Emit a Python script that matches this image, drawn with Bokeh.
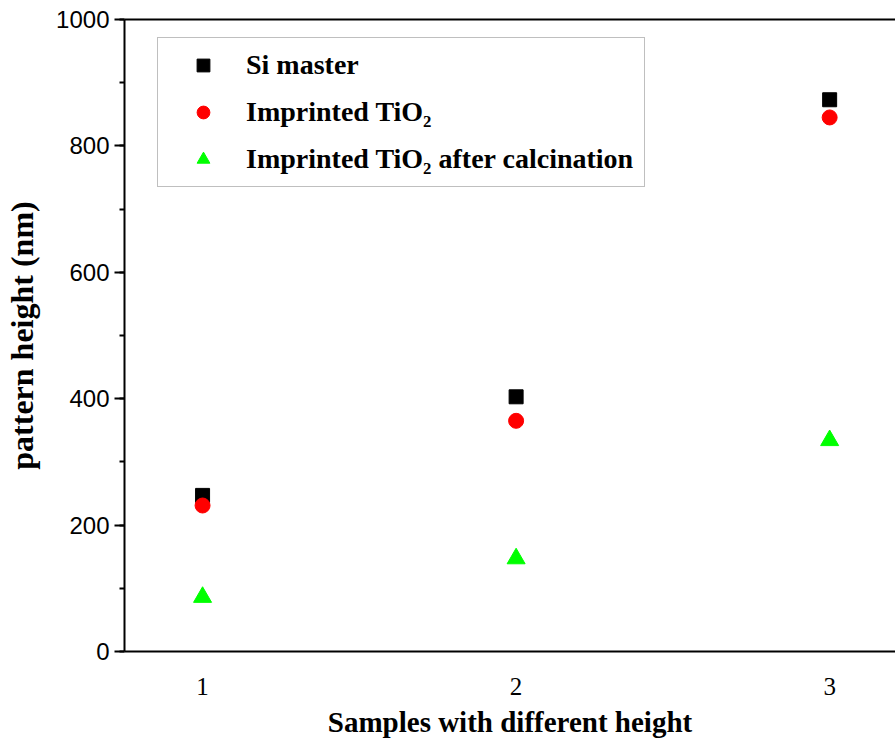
from bokeh.plotting import figure
from bokeh.models import (Range1d, FixedTicker, LinearAxis, Legend, LegendItem,
                          SingleIntervalTicker, ColumnDataSource)
from bokeh.embed import file_html
from bokeh.resources import INLINE

# ---- data ----
samples = [1, 2, 3]
si_master = [247, 403, 873]
imprinted_tio2 = [231, 365, 845]
after_calcination = [86, 147, 334]
x_ticks = [1, 2, 3]

src = ColumnDataSource(dict(x=samples, si=si_master, tio2=imprinted_tio2, calc=after_calcination))

p = figure(width=895, height=744, output_backend="svg", toolbar_location=None,
           x_range=Range1d(0.751, 3.21), y_range=Range1d(0, 1000),
           min_border_left=124, min_border_right=0, min_border_top=19, min_border_bottom=93,
           x_axis_label="Samples with different height", y_axis_label="pattern height (nm)")

p.outline_line_color = None
p.xgrid.visible = False
p.ygrid.visible = False
p.background_fill_color = "white"
p.border_fill_color = "white"

# x axis
xa = p.xaxis[0]
xa.ticker = FixedTicker(ticks=x_ticks, minor_ticks=[])
xa.axis_line_width = 2
xa.axis_line_color = "black"
xa.major_tick_line_color = None
xa.minor_tick_line_color = None
xa.major_tick_out = 0
xa.major_tick_in = 0
xa.major_label_standoff = 26
xa.major_label_text_font = "Liberation Serif"
xa.major_label_text_font_size = "25px"
xa.major_label_text_color = "black"
xa.axis_label_text_font = "Liberation Serif"
xa.axis_label_text_font_size = "29px"
xa.axis_label_text_font_style = "bold"
xa.axis_label_text_color = "black"
xa.axis_label_standoff = 8

# y axis
ya = p.yaxis[0]
ya.ticker = SingleIntervalTicker(interval=200, num_minor_ticks=2)
ya.axis_line_width = 2
ya.axis_line_color = "black"
ya.major_tick_line_width = 2
ya.major_tick_out = 10
ya.major_tick_in = 0
ya.minor_tick_line_width = 2
ya.minor_tick_out = 5
ya.minor_tick_in = 0
ya.major_label_standoff = 5
ya.major_label_text_font = "Liberation Sans"
ya.major_label_text_font_size = "24px"
ya.major_label_text_color = "black"
ya.axis_label_text_font = "Liberation Serif"
ya.axis_label_text_font_size = "32px"
ya.axis_label_text_font_style = "bold"
ya.axis_label_text_color = "black"
ya.axis_label_standoff = 13

# top frame line (axis without ticks or labels)
top = LinearAxis(axis_line_width=2, axis_line_color="black",
                 major_tick_line_color=None, minor_tick_line_color=None,
                 major_tick_out=0, major_tick_in=0, minor_tick_out=0, minor_tick_in=0,
                 major_label_standoff=0, major_label_text_font_size="0px",
                 major_label_text_color=None)
p.add_layout(top, "above")

r1 = p.scatter("x", "si", source=src, marker="square", size=14,
               fill_color="black", line_color="black")
r2 = p.scatter("x", "tio2", source=src, marker="circle", size=15,
               fill_color="#ff0000", line_color="#ff0000")
r3 = p.scatter("x", "calc", source=src, marker="triangle", size=18,
               fill_color="#00ff00", line_color="#00ff00")

legend = Legend(items=[
    LegendItem(label="Si master", renderers=[r1]),
    LegendItem(label="Imprinted TiO\u2082", renderers=[r2]),
    LegendItem(label="Imprinted TiO\u2082 after calcination", renderers=[r3]),
], location=(33, 464))
legend.padding = 11
legend.margin = 0
legend.glyph_width = 68
legend.glyph_height = 32
legend.label_height = 32
legend.spacing = 15
legend.label_standoff = 9
legend.label_text_font = "Liberation Serif"
legend.label_text_font_size = "28px"
legend.label_text_font_style = "bold"
legend.label_text_color = "black"
legend.border_line_color = "#808080"
legend.border_line_width = 1
legend.background_fill_color = "white"
legend.background_fill_alpha = 1
p.add_layout(legend, "center")

open("out.html", "w").write(file_html(p, INLINE))
